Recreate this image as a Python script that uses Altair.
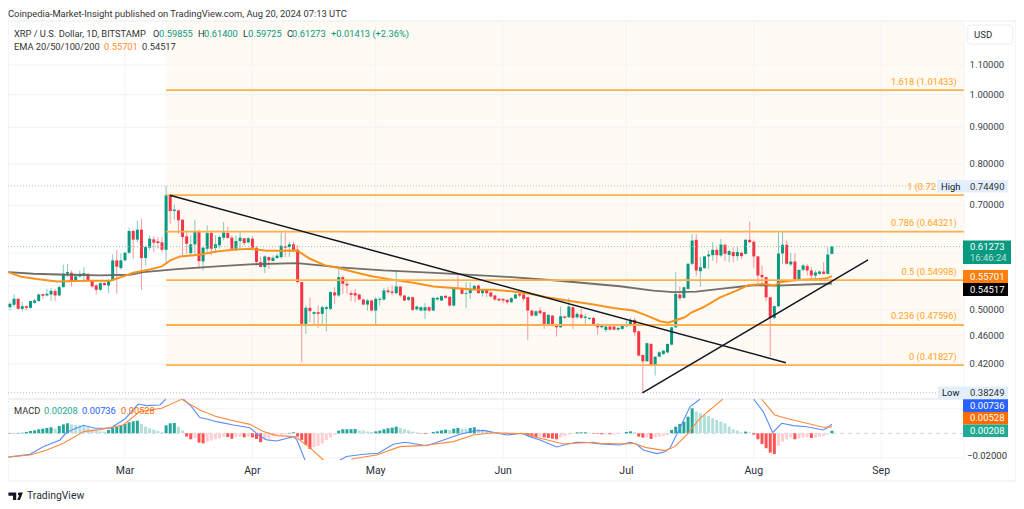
import altair as alt
import pandas as pd

FONT = "Roboto"
first_day = -28  # days relative to 1 March 2024

open_ = [
.5041,.5080,.5179,.5014,.5057,.5030,.5112,.5140,.5258,.5235,
.5252,.5309,.5235,.5377,.5614,.5632,.5476,.5566,.5596,.5614,
.5488,.5406,.5331,.5447,.5406,.5494,.5861,.5718,.5861,.6007,
.6443,.6266,.6471,.5905,.6105,.6272,.6232,.6212,.6065,.7230,
.6872,.6887,.6683,.6333,.6000,.6172,.6443,.5842,.6085,.6401,
.6098,.6152,.6306,.6401,.6306,.6085,.6238,.6293,.6212,.6286,
.6105,.5830,.5736,.5924,.5848,.5905,.5924,.6132,.6118,.6172,
.6065,.5465,.4777,.5030,.4934,.4961,.4934,.5014,.5014,.5286,
.5235,.5553,.5434,.5274,.5274,.5251,.5167,.5084,.5150,.4986,
.5161,.5167,.5319,.5302,.5274,.5388,.5234,.5161,.5206,.5006,
.4986,.4986,.5040,.4986,.5167,.5150,.5228,.5212,.5067,.5365,
.5348,.5262,.5274,.5342,.5405,.5274,.5330,.5285,.5234,.5178,
.5178,.5161,.5122,.5184,.5262,.5251,.5206,.4986,.4906,.4986,
.4960,.4776,.4906,.4761,.4725,.4891,.4880,.5040,.4880,.4922,
.4870,.4854,.4870,.4776,.4725,.4684,.4735,.4735,.4689,.4700,
.4740,.4750,.4838,.4664,.4322,.4234,.4478,.4175,.4298,.4334,
.4357,.4467,.4724,.5250,.5193,.5346,.5797,.6263,.5660,.5716,
.5936,.5960,.6064,.5954,.6163,.5967,.6020,.5942,.6007,.5986,
.6263,.6223,.5936,.5594,.5552,.5204,.4869,.5056,.5992,.6163,
.5785,.5839,.5503,.5685,.5755,.5673,.5582,.5612,.5654,.5612,
.59855]
high = [
.5124,.5252,.5179,.5124,.5068,.5140,.5179,.5263,.5263,.5348,
.5366,.5348,.5406,.5780,.5798,.5675,.5626,.5675,.5736,.5614,
.5494,.5435,.5465,.5465,.5524,.5975,.6053,.5988,.6020,.6513,
.6471,.6669,.6705,.6152,.6353,.6340,.6320,.6320,.7449,.7253,
.7015,.6902,.6683,.6457,.6353,.6683,.6471,.6132,.6562,.6457,
.6353,.6353,.6633,.6527,.6353,.6353,.6443,.6306,.6320,.6340,
.6132,.5937,.5956,.5937,.5956,.5988,.6415,.6415,.6218,.6218,
.6152,.5465,.5068,.5196,.4977,.5068,.5068,.5068,.5309,.5377,
.5705,.5583,.5523,.5319,.5347,.5262,.5178,.5178,.5161,.5206,
.5206,.5365,.5376,.5405,.5686,.5388,.5245,.5223,.5217,.5067,
.5051,.5106,.5051,.5206,.5217,.5234,.5240,.5223,.5376,.5583,
.5360,.5463,.5463,.5411,.5417,.5342,.5342,.5296,.5245,.5189,
.5189,.5172,.5206,.5274,.5291,.5262,.5206,.4997,.4986,.5040,
.4970,.4933,.4917,.4776,.5051,.4901,.5195,.5051,.4960,.5013,
.4933,.4880,.4880,.4786,.4761,.4746,.4746,.4746,.4725,.4755,
.4838,.4870,.4870,.4674,.4322,.4497,.4488,.4298,.4373,.4391,
.4486,.4734,.5642,.5385,.5385,.5809,.6374,.6374,.5923,.5943,
.6052,.6216,.6116,.6283,.6183,.6064,.6116,.6136,.6020,.6283,
.6640,.6249,.5943,.5761,.5552,.5204,.5066,.6421,.6421,.6249,
.6000,.6000,.5685,.5797,.5797,.5734,.5679,.5673,.5827,.6116,
.61400]
low = [
.4988,.5041,.4998,.4972,.4988,.5014,.5096,.5135,.5179,.5218,
.5140,.5140,.5218,.5366,.5554,.5388,.5465,.5542,.5465,.5465,
.5366,.5252,.5309,.5406,.5275,.5482,.5263,.5687,.5848,.5988,
.5892,.6218,.5331,.5767,.6053,.6020,.6085,.6020,.5830,.6597,
.6683,.6387,.5956,.5988,.5956,.5988,.5705,.5675,.5988,.5956,
.6020,.6085,.6252,.6286,.6053,.6040,.6085,.6152,.6185,.6053,
.5767,.5736,.5626,.5705,.5848,.5892,.5892,.5924,.5924,.6020,
.5435,.4220,.4626,.4803,.4751,.4716,.4751,.4666,.4988,.5096,
.5207,.5262,.5262,.5139,.5122,.5161,.5073,.4986,.4975,.4766,
.5067,.5150,.5262,.5234,.5251,.5206,.5139,.5139,.4975,.4986,
.4975,.4854,.4960,.4975,.5150,.5139,.5184,.5051,.5051,.5336,
.5251,.5028,.5178,.5319,.5262,.5217,.5206,.5206,.5139,.5139,
.5106,.5084,.5106,.5172,.5206,.5139,.4536,.4891,.4891,.4923,
.4700,.4735,.4735,.4585,.4715,.4854,.4870,.4700,.4854,.4854,
.4776,.4838,.4755,.4614,.4705,.4649,.4674,.4674,.4674,.4684,
.4725,.4740,.4599,.4303,.3825,.4225,.4171,.4043,.4289,.4324,
.4344,.4458,.4714,.5149,.5183,.5335,.5766,.5570,.5387,.5704,
.5704,.5857,.5809,.5923,.5845,.5827,.5827,.5857,.5891,.5973,
.6196,.5722,.5451,.5444,.5138,.4300,.4852,.5039,.5797,.5785,
.5761,.5473,.5491,.5661,.5582,.5503,.5522,.5600,.5600,.5600,
.59725]
close = [
.5096,.5179,.5014,.5057,.5030,.5140,.5151,.5252,.5230,.5263,
.5314,.5235,.5377,.5614,.5645,.5476,.5566,.5614,.5626,.5488,
.5388,.5331,.5447,.5412,.5494,.5861,.5742,.5861,.6007,.6443,
.6266,.6471,.5905,.6118,.6286,.6205,.6198,.6065,.7230,.6872,
.6902,.6669,.6320,.6185,.6172,.6443,.5848,.6105,.6401,.6085,
.6172,.6320,.6415,.6300,.6085,.6238,.6306,.6198,.6293,.6105,
.5830,.5736,.5937,.5861,.5911,.5950,.6145,.6105,.6172,.6065,
.5465,.4777,.5030,.4977,.4961,.4934,.5041,.5041,.5292,.5235,
.5554,.5434,.5405,.5245,.5234,.5167,.5084,.5150,.4986,.5178,
.5178,.5319,.5291,.5279,.5388,.5234,.5150,.5206,.4997,.5051,
.5040,.5040,.4986,.5195,.5195,.5223,.5195,.5067,.5365,.5348,
.5262,.5274,.5348,.5399,.5274,.5330,.5274,.5217,.5167,.5150,
.5150,.5122,.5189,.5251,.5234,.5178,.4986,.4906,.4975,.4944,
.4776,.4917,.4750,.4725,.4896,.4870,.5051,.4870,.4933,.4870,
.4891,.4870,.4776,.4725,.4750,.4735,.4689,.4689,.4715,.4746,
.4761,.4838,.4649,.4313,.4234,.4488,.4175,.4298,.4359,.4381,
.4477,.4724,.5261,.5188,.5375,.5797,.6249,.5673,.5734,.5936,
.5973,.6064,.5960,.6169,.5986,.6039,.5942,.6020,.5942,.6263,
.6216,.5936,.5582,.5552,.5204,.4869,.5056,.5992,.6163,.5797,
.5839,.5509,.5685,.5767,.5673,.5582,.5636,.5654,.5612,.5973,
.61273]

ema50_days = [-28.4,-25.5,-21.5,-16.6,-9.3,-3.6,-0.4,2,6,9,11,13.4,18,22.3,26.4,30.4,34.5,38.5,41.8,45,48.7,52,
              56.4,60.4,65.3,70.2,75,80,84.8,89.6,94.5,98.5,102.6,107.5,114,118.8,123.7,127,130.2,132.2,134.2,136.2,
              137.9,140.7,144.8,148.8,151.6,155.3,158.1,159.4,163.4,169,170.7,172]
ema50_vals = [.5644,.5566,.5518,.5476,.5488,.5488,.5566,.5632,.5693,.5749,.5861,.5937,.5969,.6033,.6065,.6085,.6046,.6046,.6053,.5892,.5767,.5720,
              .5631,.5565,.5504,.5452,.5387,.5360,.5336,.5330,.5302,.5262,.5206,.5150,.5084,.5029,.4986,.4905,.4817,.4796,.4837,.4879,
              .4958,.5039,.5204,.5318,.5410,.5433,.5404,.5462,.5503,.5520,.5531,.55701]
ema200_days = [-28.4,-22.3,-14.2,-6,1.2,4.5,12.6,22.3,30.4,41.8,47.5,52,62.9,76.6,92.9,105,120.4,128.5,133.4,139,144.8,152.9,158.6,172]
ema200_vals = [.5644,.5614,.5596,.5585,.5596,.5644,.5699,.5749,.5786,.5811,.5767,.5732,.5674,.5625,.5559,.5493,.5392,.5318,.5290,.5300,.5346,.5410,.5404,.5440]

fib_levels = [1.01433,.72315,.64321,.54998,.47596,.41827]
fib_label_levels = [1.01433,.64321,.54998,.47596,.41827]
fib_labels = ["1.618 (1.01433)","0.786 (0.64321)","0.5 (0.54998)","0.236 (0.47596)","0 (0.41827)"]
fib_start, fib_end = 10, 204.1

trend_down_days = [10.9,160.8]
trend_down_vals = [.7228,.4215]
trend_up_days = [125.9,180.8]
trend_up_vals = [.3825,.5870]

price_ticks = [1.1,1.0,.9,.8,.7,.5,.46,.42]
price_grid = [1.1,1.0,.9,.8,.7,.6,.54,.5,.46,.42]
month_days = [0,31,61,92,122,153,184]
month_names = ["Mar","Apr","May","Jun","Jul","Aug","Sep"]

hist_e4 = [
-3,3,3,5,11,19,24,33,38,44,
49,38,60,73,82,73,68,63,60,49,
33,22,16,14,27,46,54,63,76,90,
98,103,76,54,41,30,19,8,65,82,
84,54,22,-27,-49,-41,-76,-82,-68,-60,
-49,-41,-27,-30,-44,-33,-27,-33,-27,-33,
-46,-73,-54,-41,-27,-14,-14,-8,3,8,
-27,-54,-95,-128,-114,-103,-82,-54,-33,-14,
22,33,33,34,35,24,22,14,11,16,
22,33,41,46,54,44,33,24,14,8,
-3,-5,-3,11,16,24,30,27,38,44,
38,37,44,49,33,27,22,14,5,3,
-3,-3,-3,-3,-3,-5,-22,-27,-33,-27,
-33,-38,-44,-49,-33,-22,-11,-5,8,8,
8,5,-3,-5,-8,-5,-8,-8,-5,-3,
11,16,8,-27,-35,-33,-46,-33,-27,-22,
-14,27,54,76,95,136,204,177,163,150,
141,122,109,95,82,54,33,22,8,14,
8,-11,-49,-87,-122,-158,-169,-103,-68,-49,
-33,-49,-41,-33,-33,-38,-33,-27,-22,-8,
21]

macd_days = [-28.4,-25.5,-23.1,-19.9,-15.8,-14.2,-10.1,-7.3,-3.6,0,3.2,5.3,8.5,9.9,12,
             14.2,16.2,18.2,19.9,22.3,26.4,30.4,32.4,34.5,36.9,41,41.8,43.8,48,
             52.3,53.9,58,61.6,65.3,68.1,73.4,77.5,81.5,84.8,87.2,89.6,92.9,96.5,98.5,101,105,107.5,109.9,113.1,115.6,
             120.4,122.9,124.5,126.1,129.4,131.4,132.6,134.6,137.5,139.9,146,
             153,155.3,157.6,159.8,162.6,165.9,169.9,170.7,172]
macd_vals = [-.0193,-.0182,-.0171,-.0109,-.0054,.0008,.0065,.0041,.0041,.0117,.0239,.0226,.0231,.0278,None,
             .0278,.0218,.0128,.0117,.0095,.0068,.0046,-.0014,-.0054,-.0063,-.0027,-.0054,-.0218,None,
             -.0218,-.0190,-.0171,-.0163,-.0090,-.0073,-.0101,-.0054,-.0008,.0019,.0024,.0008,-.0014,0,-.0027,-.0054,-.0112,-.0090,-.0073,-.0076,-.0087,
             -.0095,-.0073,-.0090,-.0136,-.0166,-.0150,-.0122,.0014,.0218,.0278,None,
             .0278,.0177,.0005,.0082,.0063,.0054,.0027,.0041,.00736]
signal_days = [-28.4,-23.1,-19,-15,-10.1,-6.1,-.4,3.6,8.9,13.8,18.2,22.3,26.4,30.4,33.7,36.9,41.4,44.2,48.3,52,
               55.1,61.2,66.9,72.2,79.9,84.8,89.6,95.3,97.7,101,106.7,113.9,115.6,122,123.7,126.9,131.4,133.8,136.6,139.9,145.4,150,
               154.9,158.1,161.8,165.9,169.9,172]
signal_vals = [-.0193,-.0177,-.0136,-.0082,.0014,.0030,.0068,.0177,.0204,.0278,.0190,.0136,.0103,.0073,.0014,-.0019,-.0027,-.0095,-.0218,None,
               -.0210,-.0177,-.0109,-.0101,-.0068,-.0014,.0005,-.0003,-.0003,-.0041,-.0087,-.0073,-.0082,-.0087,-.0082,-.0117,-.0141,-.0109,-.0014,.0122,.0278,None,
               .0278,.0150,.0114,.0082,.0049,.00528]

GREEN, RED = "#089981", "#f23645"
days = [first_day + i for i in range(len(close))]
candles = pd.DataFrame({"day": days, "o": open_, "h": high, "l": low, "c": close})
candles["col"] = [GREEN if c >= o else RED for o, c in zip(open_, close)]

hist_vals = [v / 10000 for v in hist_e4]
hist_cols = []
for i, v in enumerate(hist_vals):
    prev = hist_vals[i - 1] if i else 0
    if v >= 0:
        hist_cols.append("#26a69a" if v >= prev else "#b2dfdb")
    else:
        hist_cols.append("#ff5252" if v < prev else "#ffcdd2")
hist = pd.DataFrame({"day": days, "v": hist_vals, "zero": 0.0, "col": hist_cols})

X = alt.X("day:Q", axis=None, scale=alt.Scale(domain=[-28.47, 216.8], range=[0, 1008], nice=False, zero=False))
PRICE = alt.Scale(type="log", domain=[.42, 1.1], range=[355.8, 57], nice=False)
MACD = alt.Scale(domain=[-.02, .02], range=[449.8, 400.8], nice=False, zero=False)


def PY(f):
    return alt.Y(f, type="quantitative", axis=None, scale=PRICE)


def MY(f):
    return alt.Y(f, type="quantitative", axis=None, scale=MACD)


ONE = alt.Data(values=[{"a": 1}])


def box(x0, x1, y0, y1, color, **kw):
    return alt.Chart(ONE).mark_rect(color=color, **kw).encode(
        x=alt.value(x0 - 8), x2=alt.value(x1 - 8), y=alt.value(y0 - 8), y2=alt.value(y1 - 8))


def hline(x0, x1, y, color, w=1):
    return alt.Chart(ONE).mark_rule(color=color, strokeWidth=w).encode(
        x=alt.value(x0 - 8), x2=alt.value(x1 - 8), y=alt.value(y - 8))


def vline(x, y0, y1, color, w=1):
    return alt.Chart(ONE).mark_rule(color=color, strokeWidth=w).encode(
        x=alt.value(x - 8), y=alt.value(y0 - 8), y2=alt.value(y1 - 8))


def text(t, x, y, color="#333333", size=9.5, align="left", **kw):
    return alt.Chart(alt.Data(values=[{"t": t}])).mark_text(
        font=FONT, fontSize=size, color=color, align=align, baseline="middle", **kw
    ).encode(x=alt.value(x - 8), y=alt.value(y - 8), text="t:N")


layers = []
# tinted Fibonacci area and grid
layers.append(alt.Chart(pd.DataFrame({"day": [fib_start], "b": [fib_end], "t": [1.267], "p": [fib_levels[-1]]}))
              .mark_rect(color="#fffaf3").encode(x=X, x2="b:Q", y=PY("t"), y2="p:Q"))
layers.append(alt.Chart(pd.DataFrame({"p": price_grid})).transform_calculate(day="-28.47", b="204.1")
              .mark_rule(color="#f2f3f5", strokeWidth=1).encode(x=X, x2="b:Q", y=PY("p")))
layers.append(alt.Chart(pd.DataFrame({"day": month_days})).mark_rule(color="#f2f3f5", strokeWidth=1)
              .encode(x=X, y=alt.value(13), y2=alt.value(452)))
layers.append(alt.Chart(pd.DataFrame({"v": [-.02, .02]})).transform_calculate(day="-28.47", b="204.1")
              .mark_rule(color="#f2f3f5", strokeWidth=1).encode(x=X, x2="b:Q", y=MY("v")))

# frame
layers += [hline(8, 1016, 21, "#e9ecf1"), hline(8, 1016, 481, "#e9ecf1"), vline(8, 21, 481, "#e9ecf1"),
           vline(1016, 21, 481, "#e9ecf1"), hline(8, 964, 399, "#eef0f4", 2), vline(964, 21, 460, "#f2f3f5")]

# candles
base = alt.Chart(candles)
layers.append(base.mark_rule(strokeWidth=1, opacity=.5).encode(
    x=X, y=PY("h"), y2="l:Q", color=alt.Color("col:N", scale=None)))
layers.append(base.mark_rule(strokeWidth=3).encode(
    x=X, y=PY("o"), y2="c:Q", color=alt.Color("col:N", scale=None)))

# EMAs
layers.append(alt.Chart(pd.DataFrame({"day": ema200_days, "p": ema200_vals})).mark_line(color="#6a6661", strokeWidth=1.8, opacity=.95)
              .encode(x=X, y=PY("p")))
layers.append(alt.Chart(pd.DataFrame({"day": ema50_days, "p": ema50_vals})).mark_line(color="#f7931e", strokeWidth=2)
              .encode(x=X, y=PY("p")))

# dotted price lines
layers.append(alt.Chart(pd.DataFrame({"p": [.7449]})).transform_calculate(day="-28.47", b="204.1")
              .mark_rule(color="#b8bbc2", strokeWidth=1, strokeDash=[1, 2]).encode(x=X, x2="b:Q", y=PY("p")))
layers.append(alt.Chart(pd.DataFrame({"p": [.38249]})).transform_calculate(day="-28.47", b="204.1")
              .mark_rule(color="#b8bbc2", strokeWidth=1, strokeDash=[1, 2]).encode(x=X, x2="b:Q", y=PY("p")))
layers.append(alt.Chart(pd.DataFrame({"p": [.61273]})).transform_calculate(day="-28.47", b="204.1")
              .mark_rule(color="#7fcdbb", strokeWidth=1, strokeDash=[1, 2]).encode(x=X, x2="b:Q", y=PY("p")))

# Fibonacci lines and labels
layers.append(alt.Chart(pd.DataFrame({"p": fib_levels})).transform_calculate(day=str(fib_start), b=str(fib_end))
              .mark_rule(color="#ffb04d", strokeWidth=1.8).encode(x=X, x2="b:Q", y=PY("p")))
layers.append(alt.Chart(pd.DataFrame({"p": fib_label_levels, "t": fib_labels})).transform_calculate(day="202.4")
              .mark_text(font=FONT, fontSize=9.3, color="#ffa41f", align="right", baseline="middle", dy=-8.5)
              .encode(x=X, y=PY("p"), text="t:N"))
layers.append(text("1 (0.72", 936, 186.5, color="#ffa41f", size=9.3, align="right"))

# trend lines
layers.append(alt.Chart(pd.DataFrame({"day": trend_down_days, "p": trend_down_vals})).mark_line(color="#131722", strokeWidth=1.5)
              .encode(x=X, y=PY("p")))
layers.append(alt.Chart(pd.DataFrame({"day": trend_up_days, "p": trend_up_vals})).mark_line(color="#131722", strokeWidth=1.5)
              .encode(x=X, y=PY("p")))

# MACD
layers.append(alt.Chart(pd.DataFrame({"v": [0.0]})).transform_calculate(day="-28.47", b="204.1")
              .mark_rule(color="#d5d7dc", strokeWidth=1, strokeDash=[4, 4]).encode(x=X, x2="b:Q", y=MY("v")))
layers.append(alt.Chart(hist).mark_rule(strokeWidth=3).encode(
    x=X, y=MY("v"), y2="zero:Q", color=alt.Color("col:N", scale=None)))
layers.append(alt.Chart(pd.DataFrame({"day": macd_days, "v": macd_vals})).mark_line(color="#5b8cff", strokeWidth=1.1)
              .encode(x=X, y=MY("v")))
layers.append(alt.Chart(pd.DataFrame({"day": signal_days, "v": signal_vals})).mark_line(color="#ff8a3d", strokeWidth=1.1)
              .encode(x=X, y=MY("v")))

# time axis
layers.append(alt.Chart(pd.DataFrame({"day": month_days, "t": month_names}))
              .mark_text(font=FONT, fontSize=10.5, color="#2a2e39", align="center", baseline="middle")
              .encode(x=X, y=alt.value(471 - 8), text="t:N"))

# price axis
layers.append(alt.Chart(pd.DataFrame({"p": price_ticks, "t": ["%.5f" % v for v in price_ticks]}))
              .mark_text(font=FONT, fontSize=9.5, color="#3a3d47", align="left", baseline="middle")
              .transform_calculate(day="205.5")
              .encode(x=X, y=PY("p"), text="t:N"))

# header text
layers += [
    text("Coinpedia-Market-Insight published on TradingView.com, Aug 20, 2024 07:13 UTC", 8, 13.5, size=9.4),
    text("XRP / U.S. Dollar, 1D, BITSTAMP", 14, 33.5, size=9.3),
]
for lab, xl, val, xv in [("O", 153, "0.59855", 159), ("H", 198, "0.61400", 204), ("L", 243, "0.59725", 248), ("C", 287, "0.61273", 292)]:
    layers += [text(lab, xl, 33.5, size=9.3), text(val, xv, 33.5, color=GREEN, size=9.3)]
layers += [
    text("+0.01413 (+2.36%)", 331, 33.5, color=GREEN, size=9.3),
    text("EMA 20/50/100/200", 14, 47, size=9.3),
    text("0.55701", 104, 47, color="#ff8a1f", size=9.3),
    text("0.54517", 142, 47, size=9.3),
    text("MACD", 14, 411, size=9.3),
    text("0.00208", 44, 411, color="#22ab94", size=9.3),
    text("0.00736", 82, 411, color="#2962ff", size=9.3),
    text("0.00528", 121, 411, color="#ff6d00", size=9.3),
]

# USD box
layers.append(alt.Chart(ONE).mark_rect(color="#ffffff", stroke="#e9ecf1", cornerRadius=4).encode(
    x=alt.value(967 - 8), x2=alt.value(1013 - 8), y=alt.value(25 - 8), y2=alt.value(44 - 8)))
layers.append(text("USD", 974, 34.5, color="#2a2e39", size=9.6))

# price tags
TAGB = "#e3effd"
layers += [
    box(937, 1008, 180, 192.5, TAGB), text("High", 941, 186.5, color="#131722", size=9.4), text("0.74490", 970, 186.5, size=9.5),
    box(938, 1008, 386.5, 399.5, TAGB), text("Low", 942, 393, color="#131722", size=9.4), text("0.38249", 970, 393, size=9.5),
    box(963, 1011, 240.5, 264, GREEN), text("0.61273", 970, 247, color="#ffffff", size=9.5),
    text("16:46:24", 970, 258, color="#ffffff", size=9.5, opacity=.7),
    box(963, 1008, 270, 283, "#ff7f0e"), text("0.55701", 970, 276.5, color="#ffffff", size=9.5),
    box(963, 1008, 283, 296, "#000000"), text("0.54517", 970, 289.5, color="#ffffff", size=9.5),
    box(963, 1008, 399.3, 412, "#2962ff"), text("0.00736", 970, 405.6, color="#ffffff", size=9.5),
    box(963, 1008, 412, 424.5, "#ff6d00"), text("0.00528", 970, 418.2, color="#ffffff", size=9.5),
    box(963, 1008, 424.5, 437, "#22ab94"), text("0.00208", 970, 430.8, color="#ffffff", size=9.5),
    text("\u22120.02000", 967, 456, size=9.5),
]

# footer logo
LOGO = "M-1 -.5H.1V.55H-.35V-.02H-1Z M.55 -.5A.22 .22 0 1 1 .549 -.5Z M.7 -.5H1.05L.62 .55H.24Z"
layers.append(alt.Chart(ONE).mark_point(shape=LOGO, filled=True, color="#131722", opacity=1, size=200).encode(
    x=alt.value(15.5 - 8), y=alt.value(496 - 8)))
layers.append(text("TradingView", 27, 496, color="#2a2e39", size=10.4))

chart = (
    alt.layer(*layers)
    .resolve_scale(y="independent")
    .properties(width=1008, height=493, padding=0, autosize=alt.AutoSizeParams(type="none"), background="#ffffff")
    .configure_view(stroke=None)
)
chart.save("out.html", embed_options={"renderer": "svg", "actions": False})
